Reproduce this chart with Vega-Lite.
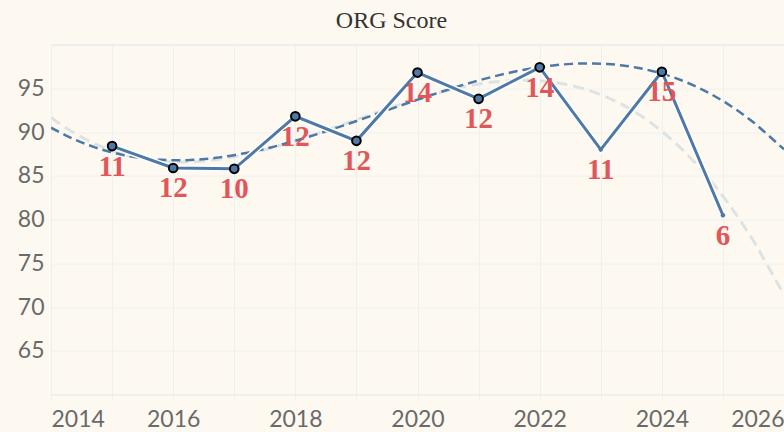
{
  "$schema": "https://vega.github.io/schema/vega-lite/v6.json",
  "autosize": {"type": "none"},
  "padding": {"left": 51, "top": 44.6, "right": 0, "bottom": 37.4},
  "width": 733,
  "height": 350,
  "background": "#fdf9f1",
  "title": {
    "text": "ORG Score",
    "font": "Liberation Serif",
    "fontSize": 24,
    "fontWeight": "normal",
    "color": "#333333",
    "anchor": "middle",
    "offset": 12,
    "dx": -26
  },
  "data": {
    "values": [
      {"year": 2015, "score": 88.4, "n": 11, "kind": "full"},
      {"year": 2016, "score": 85.9, "n": 12, "kind": "full"},
      {"year": 2017, "score": 85.8, "n": 10, "kind": "full"},
      {"year": 2018, "score": 91.8, "n": 12, "kind": "full"},
      {"year": 2019, "score": 89.0, "n": 12, "kind": "full"},
      {"year": 2020, "score": 96.8, "n": 14, "kind": "full"},
      {"year": 2021, "score": 93.8, "n": 12, "kind": "full"},
      {"year": 2022, "score": 97.4, "n": 14, "kind": "full"},
      {"year": 2023, "score": 88.0, "n": 11, "kind": "partial"},
      {"year": 2024, "score": 96.9, "n": 15, "kind": "full"},
      {"year": 2025, "score": 80.5, "n": 6, "kind": "partial"}
    ]
  },
  "encoding": {
    "x": {
      "field": "year",
      "type": "quantitative",
      "scale": {"domain": [2014, 2026], "nice": false, "zero": false},
      "axis": {
        "title": null,
        "values": [2014, 2015, 2016, 2017, 2018, 2019, 2020, 2021, 2022, 2023, 2024, 2025, 2026],
        "format": "d",
        "labelExpr": "datum.value % 2 == 0 ? datum.label : ''",
        "labelFlush": true,
        "labelFont": "Lato",
        "labelFontSize": 23,
        "labelColor": "#6a6a6a",
        "labelPadding": 9,
        "grid": true,
        "gridColor": "#eef0f0",
        "domainColor": "#eef0f0",
        "tickColor": "#eef0f0",
        "tickSize": 5
      }
    },
    "y": {
      "field": "score",
      "type": "quantitative",
      "scale": {"domain": [60, 100], "nice": false, "zero": false},
      "axis": {
        "title": null,
        "values": [60, 65, 70, 75, 80, 85, 90, 95, 100],
        "labelExpr": "datum.value == 60 || datum.value == 100 ? '' : datum.label",
        "labelFont": "Lato",
        "labelFontSize": 23,
        "labelColor": "#6a6a6a",
        "labelPadding": 7,
        "domain": false,
        "ticks": false,
        "grid": true,
        "gridColor": "#eef0f0"
      }
    }
  },
  "layer": [
    {
      "transform": [
        {"regression": "score", "on": "year", "method": "poly", "order": 3, "extent": [2014, 2026]}
      ],
      "mark": {"type": "line", "color": "#dde3e3", "strokeWidth": 3, "strokeDash": [11, 6], "clip": true},
      "encoding": {}
    },
    {
      "transform": [
        {"filter": "datum.kind == 'full'"},
        {"regression": "score", "on": "year", "method": "poly", "order": 3, "extent": [2014, 2026]}
      ],
      "mark": {"type": "line", "color": "#4e79a7", "strokeWidth": 2.5, "strokeDash": [9, 5], "clip": true},
      "encoding": {}
    },
    {
      "mark": {"type": "line", "color": "#ffffff", "strokeWidth": 6},
      "encoding": {}
    },
    {
      "mark": {"type": "line", "color": "#4e79a7", "strokeWidth": 3},
      "encoding": {}
    },
    {
      "transform": [{"filter": "datum.kind == 'full'"}],
      "mark": {"type": "point", "shape": "circle", "filled": true, "fill": "#4e79a7", "stroke": "#000000", "strokeWidth": 2, "size": 75, "opacity": 1},
      "encoding": {}
    },
    {
      "transform": [{"filter": "datum.kind == 'partial'"}],
      "mark": {"type": "point", "shape": "circle", "filled": true, "color": "#4e79a7", "size": 20, "opacity": 1},
      "encoding": {}
    },
    {
      "mark": {"type": "text", "font": "Liberation Serif", "fontWeight": "bold", "fontSize": 29, "color": "#e15759", "baseline": "alphabetic", "dy": 29.5},
      "encoding": {"text": {"field": "n", "type": "quantitative"}}
    }
  ]
}
